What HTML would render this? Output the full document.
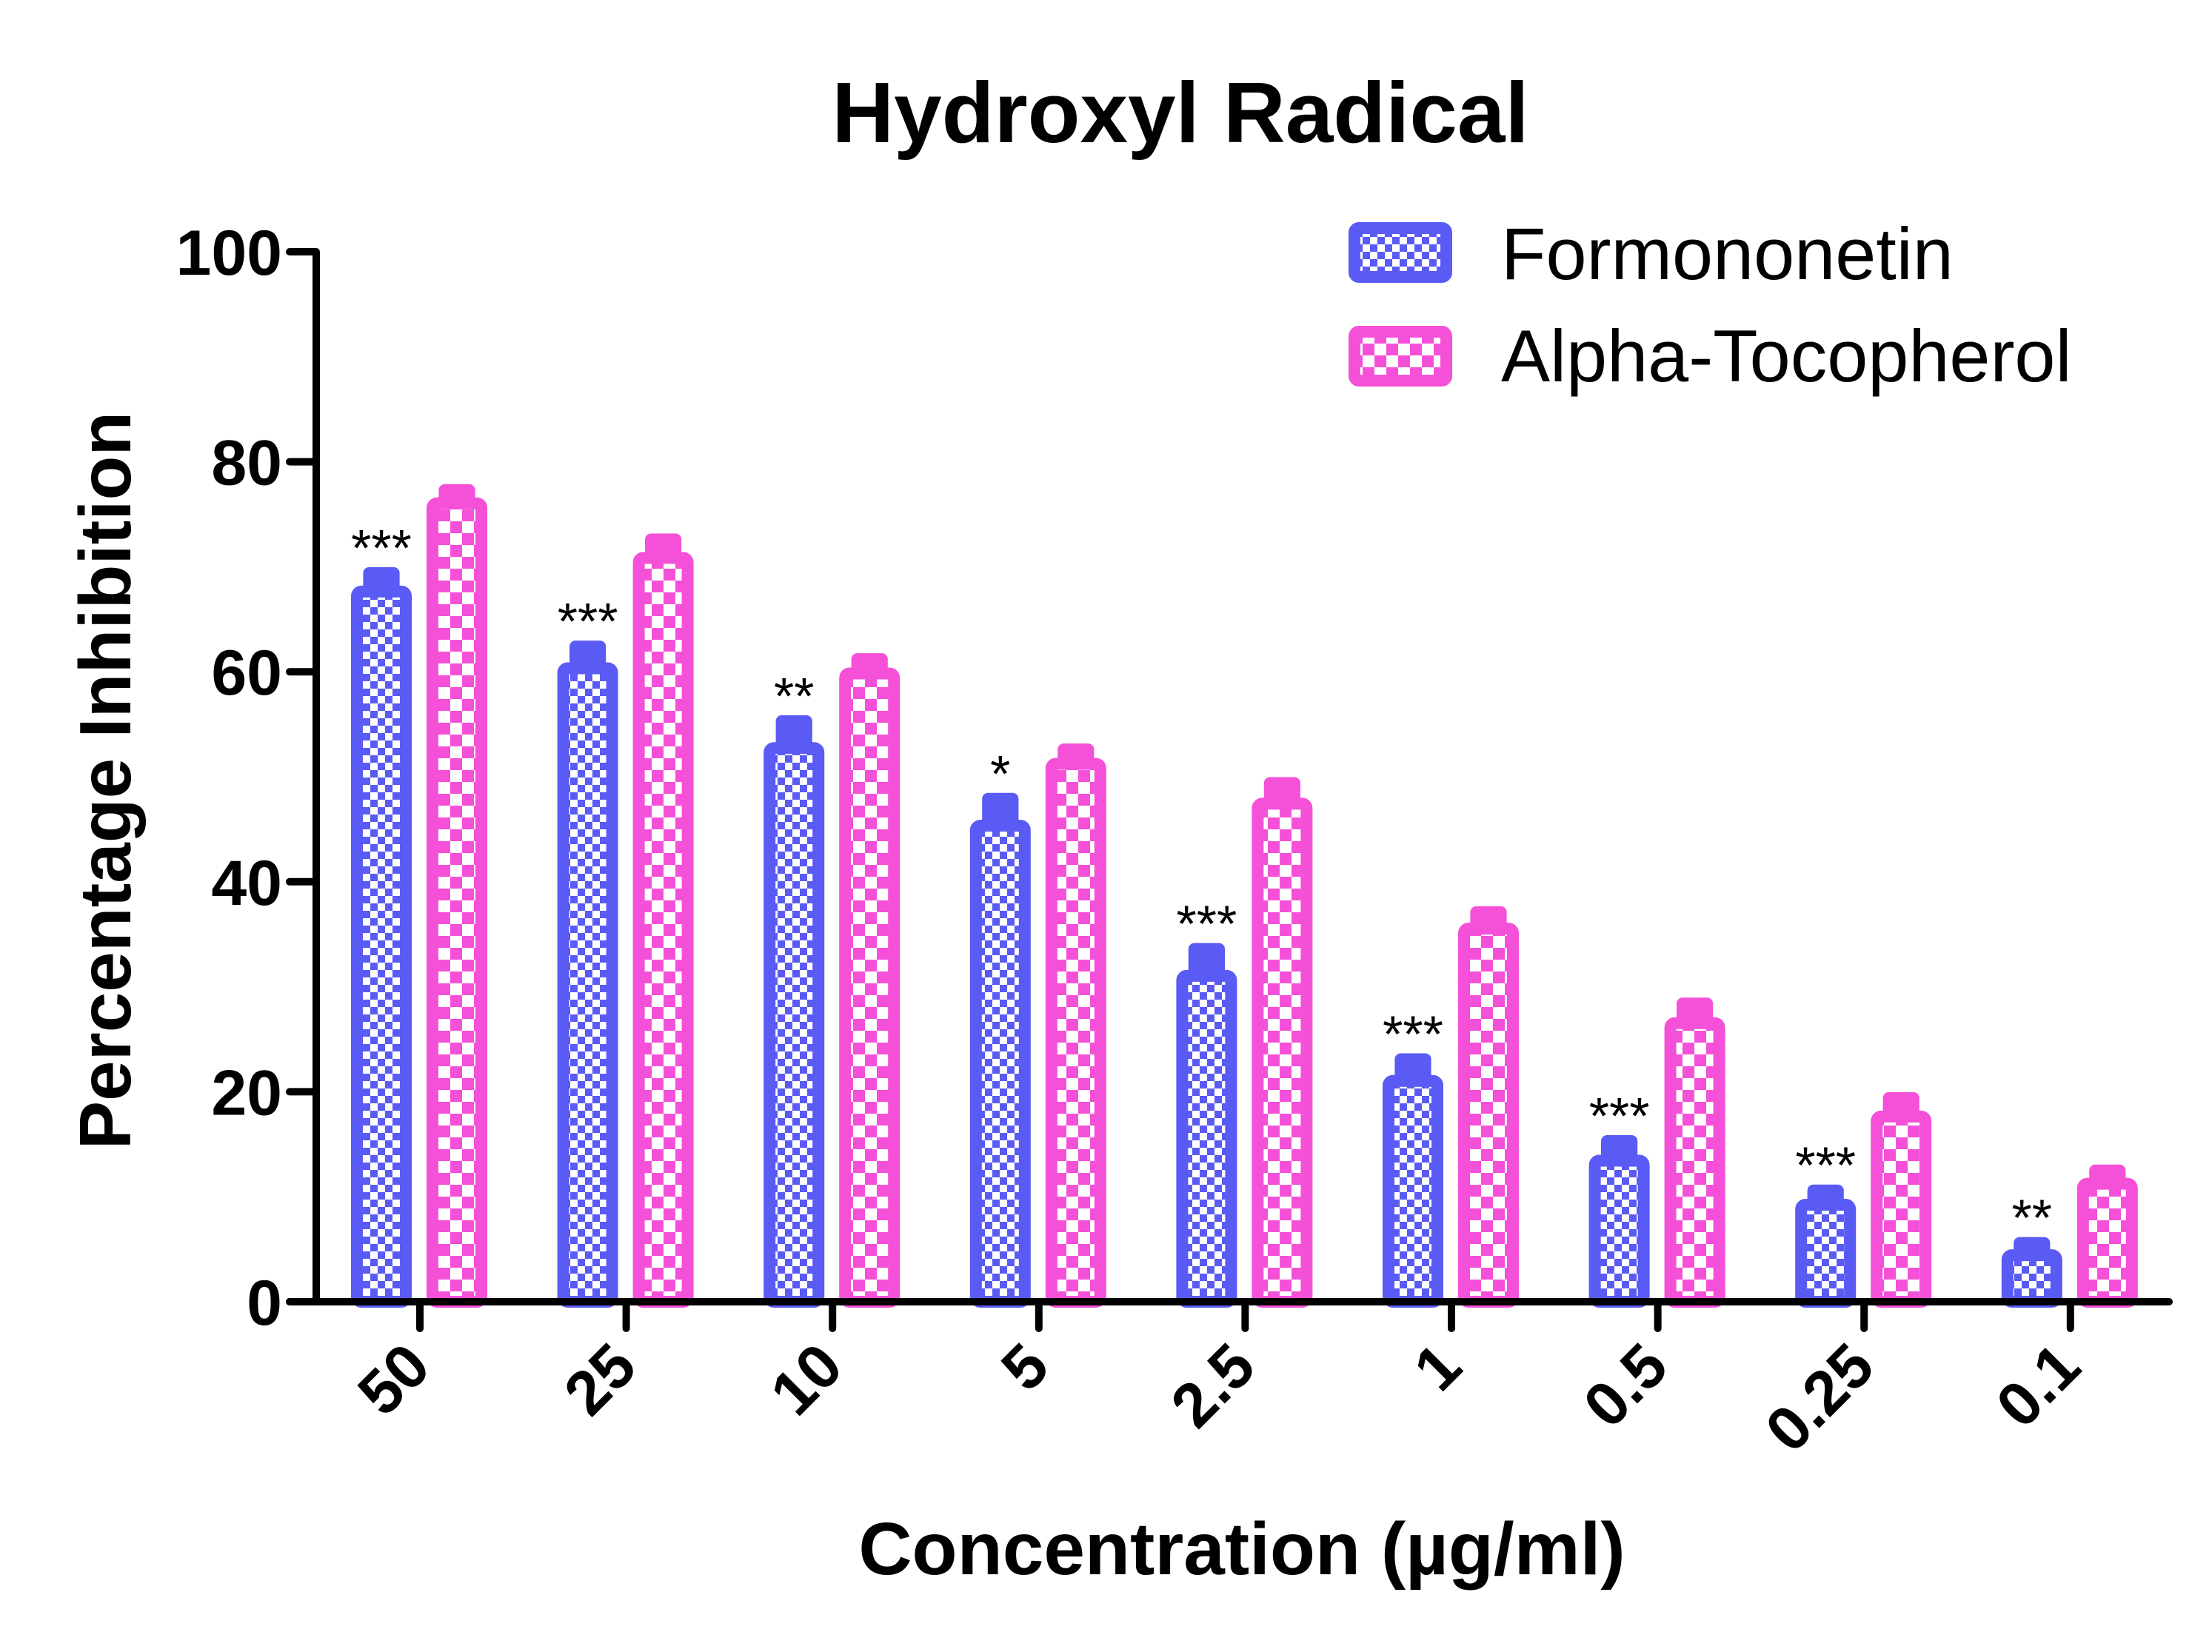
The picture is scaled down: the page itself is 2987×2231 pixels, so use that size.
<!DOCTYPE html>
<html><head><meta charset="utf-8"><style>
html,body{margin:0;padding:0;background:#fff}
svg{display:block}
text{font-family:"Liberation Sans",Arial,sans-serif}
</style></head><body>
<svg id="chart" width="2987" height="2231" viewBox="0 0 2987 2231" xmlns="http://www.w3.org/2000/svg">
<defs>
<pattern id="pBlue" width="20" height="20" patternUnits="userSpaceOnUse">
<rect width="20" height="20" fill="#fff"/><rect width="10" height="10" fill="#5a5af5"/><rect x="10" y="10" width="10" height="10" fill="#5a5af5"/>
</pattern>
<pattern id="pPink" width="32" height="32" patternUnits="userSpaceOnUse">
<rect width="32" height="32" fill="#fff"/><rect width="16" height="16" fill="#f550d8"/><rect x="16" y="16" width="16" height="16" fill="#f550d8"/>
</pattern>
</defs>
<text x="1594" y="192" text-anchor="middle" font-size="116" font-weight="bold">Hydroxyl Radical</text>
<text transform="translate(176,1054) rotate(-90)" text-anchor="middle" font-size="98" font-weight="bold">Percentage Inhibition</text>
<text x="1677" y="2126" text-anchor="middle" font-size="100" font-weight="bold">Concentration (µg/ml)</text>
<g id="legend">
<rect x="1829" y="308" width="124" height="66" fill="url(#pBlue)" stroke="#5a5af5" stroke-width="16" rx="6"/>
<text x="2027" y="377" font-size="99">Formononetin</text>
<rect x="1829" y="448" width="124" height="66" fill="url(#pPink)" stroke="#f550d8" stroke-width="16" rx="6"/>
<text x="2027" y="515" font-size="99">Alpha-Tocopherol</text>
</g>
<g id="plot"></g>
</svg>
<script>
const categories=["50","25","10","5","2.5","1","0.5","0.25","0.1"];
const formoValues=[68.2,60.9,53.3,45.9,31.6,21.6,14.0,9.8,5.0];
const formoErrors=[1.2,1.5,2.0,2.0,2.0,1.5,1.3,0.8,0.6];
const alphaValues=[76.6,71.4,60.4,51.8,48.0,36.1,27.1,18.2,11.8];
const alphaErrors=[0.7,1.2,0.8,0.8,1.4,1.0,1.3,1.2,0.7];
const stars=["***","***","**","*","***","***","***","***","**"];
const yTicks=[0,20,40,60,80,100];

const NS="http://www.w3.org/2000/svg";
const g=document.getElementById('plot');
const X0=427,XEND=2929,Y0=1758,Y100=340;
function yScale(v){return Y0-(Y0-Y100)*v/100;}
function xScale(i){return 567+i*278.6;}
function mk(tag,attrs,parent){const e=document.createElementNS(NS,tag);for(const k in attrs)e.setAttribute(k,attrs[k]);(parent||g).appendChild(e);return e;}
const BW=82;
function drawBar(cx,v,err,fill,col,name){
  const top=yScale(v);
  const eTop=yScale(v+err);
  const eb=mk('rect',{x:cx-BW*0.3,y:eTop-8,width:BW*0.6,height:Math.max(top-eTop,0)+16,fill:col,rx:8});
  
  
  const r=mk('rect',{x:cx-BW/2+8,y:top+8,width:BW-16,height:Math.max(Y0-top-8,0),fill:fill,stroke:col,'stroke-width':16,rx:6});
  
  
  return eTop;
}
categories.forEach((c,i)=>{
  const t=xScale(i);
  const eTop=drawBar(t-52,formoValues[i],formoErrors[i],'url(#pBlue)','#5a5af5','bar-formononetin-'+c);
  drawBar(t+50,alphaValues[i],alphaErrors[i],'url(#pPink)','#f550d8','bar-alpha-tocopherol-'+c);
  const s=mk('text',{x:t-52,y:eTop-10,'text-anchor':'middle','font-size':70});
  s.textContent=stars[i];
  
  
  const tk=mk('line',{x1:t,y1:Y0,x2:t,y2:Y0+36,stroke:'#000','stroke-width':10,'stroke-linecap':'round'});
  
  
  const lb=mk('text',{transform:`translate(${t+18},${Y0+92}) rotate(-45)`,'text-anchor':'end','font-size':84,'font-weight':'bold'});
  lb.textContent=c;
  
  
});
const ya=mk('line',{x1:X0,y1:Y100,x2:X0,y2:Y0,stroke:'#000','stroke-width':10});


const xa=mk('line',{x1:X0-36,y1:Y0,x2:XEND,y2:Y0,stroke:'#000','stroke-width':10,'stroke-linecap':'round'});


yTicks.forEach(v=>{
  const y=yScale(v);
  const tk=mk('line',{x1:X0-36,y1:y,x2:X0,y2:y,stroke:'#000','stroke-width':10,'stroke-linecap':'round'});
  
  
  const lb=mk('text',{x:X0-46,y:y+31,'text-anchor':'end','font-size':86,'font-weight':'bold'});
  lb.textContent=v;
  
  
});
</script>
</body></html>
